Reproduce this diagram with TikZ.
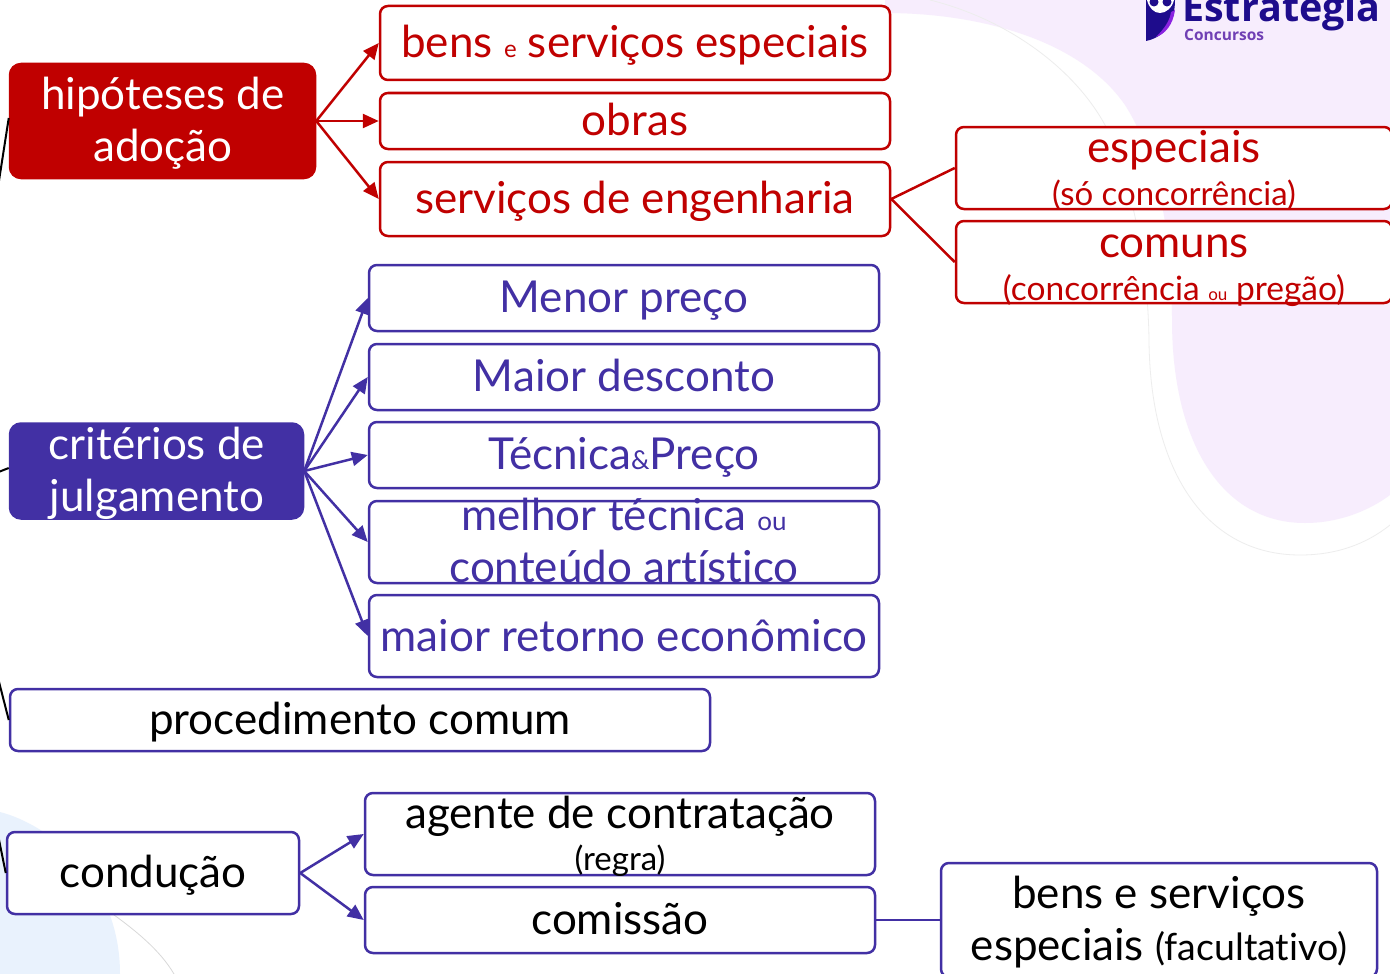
\documentclass[tikz,border=0pt]{standalone}
\usepackage{fontspec}
\setmainfont[Ligatures=NoCommon]{Lato}
\newfontfamily\logofont{Open Sans}
\usetikzlibrary{arrows.meta}
\definecolor{redmain}{HTML}{C00000}
\definecolor{bluemain}{HTML}{4230A4}
\definecolor{lilacbg}{HTML}{F7EDFD}
\definecolor{skybg}{HTML}{E9F2FD}
\definecolor{logonavy}{HTML}{1E0C8C}
\definecolor{logopurple}{HTML}{7040B4}
\definecolor{logoswoosh}{HTML}{8A22E0}
\newcommand{\fs}[1]{\fontsize{#1}{52}\selectfont}
\begin{document}
\begin{tikzpicture}[
    x=1pt, y=-1pt,
    box/.style={draw, fill=white, line width=2.5pt, rounded corners=8pt, inner sep=0pt},
    redbox/.style={box, draw=redmain},
    bluebox/.style={box, draw=bluemain},
    redhead/.style={box, draw=redmain, fill=redmain, rounded corners=11pt},
    bluehead/.style={box, draw=bluemain, fill=bluemain, rounded corners=11pt},
    txt/.style={align=center, inner sep=0pt, font=\fs{44}},
    redtxt/.style={txt, text=redmain},
    bluetxt/.style={txt, text=bluemain},
    whitetxt/.style={txt, text=white},
    redarrow/.style={draw=redmain, line width=2.5pt, -{Triangle[length=16pt,width=14pt]}},
    bluearrow/.style={draw=bluemain, line width=2.5pt, -{Triangle[length=16pt,width=14pt]}},
    redline/.style={draw=redmain, line width=2.5pt},
    blueline/.style={draw=bluemain, line width=2.5pt},
    stub/.style={draw=black, line width=2pt},
    thinarc/.style={draw=black!7, line width=0.8pt}
  ]
  \useasboundingbox (0,0) rectangle (1390,974);
  \clip (0,0) rectangle (1390,974);

  % Background shapes
  \fill[white] (0,0) rectangle (1390,974);
  \fill[lilacbg] (885,0) -- (885,13) .. controls (980,13) and (1080,40) .. (1125,105)
    .. controls (1160,160) and (1172,240) .. (1172,320)
    .. controls (1172,440) and (1220,523) .. (1305,523)
    .. controls (1340,523) and (1370,510) .. (1390,495) -- (1390,0) -- cycle;
  \draw[thinarc] (930,0) .. controls (1010,20) and (1075,70) .. (1105,125)
    .. controls (1135,190) and (1148,270) .. (1149,340)
    .. controls (1150,470) and (1205,555) .. (1300,555)
    .. controls (1335,555) and (1365,545) .. (1390,525);
  \fill[skybg] (0,812) .. controls (50,825) and (120,880) .. (120,974) -- (0,974) -- cycle;
  \draw[thinarc, draw=black!15] (110,912) .. controls (135,930) and (160,950) .. (174,974);

  % Logo
  \fill[logonavy] (1146,0) -- (1175,0) .. controls (1175,22) and (1165,37) .. (1146,41) -- cycle;
  \fill[logoswoosh] (1175,10) .. controls (1173,25) and (1165,34) .. (1156,37) .. controls (1165,28) and (1170,20) .. (1171,12) -- cycle;
  \fill[white] (1147,0) -- (1174,0) .. controls (1172,8) and (1166,13) .. (1160,13) .. controls (1154,13) and (1149,8) .. (1147,0) -- cycle;
  \fill[logonavy] (1154,2) circle (4.5) (1167,2) circle (4.5);
  \node[inner sep=0pt, anchor=base west, text=logonavy, font=\logofont\bfseries\fs{39.5}] (logotitle) at (1182,22) {Estratégia};
  \node[inner sep=0pt, anchor=base west, text=logopurple, font=\logofont\bfseries\fs{15.5}] (logosub) at (1184,41) {Concursos};

  % Stubs from the left edge
  \coordinate (stubA) at (-4,200);
  \coordinate (stubB) at (-4,473);
  \coordinate (stubC) at (-4,670);
  \coordinate (stubD) at (-4,825);

  % Top branch
  \node[redhead, minimum width=305pt, minimum height=114pt] (hipoteses) at (162.5,121) {};
  \node[whitetxt] (hipotesestxt) at (163,123) {hipóteses de\\adoção};
  \node[redbox, minimum width=510pt, minimum height=74pt] (bens) at (635,43) {};
  \node[redtxt] (benstxt) at (635,45) {bens {\fs{24}e} serviços especiais};
  \node[redbox, minimum width=510pt, minimum height=56pt] (obras) at (635,121) {};
  \node[redtxt] (obrastxt) at (635,119) {obras};
  \node[redbox, minimum width=510pt, minimum height=74pt] (engenharia) at (635,199) {};
  \node[redtxt] (engenhariatxt) at (635,201) {serviços de engenharia};
  \node[redbox, minimum width=436pt, minimum height=82pt] (especiais) at (1174,168) {};
  \node[redtxt] (especiaistxt) at (1174,170) {especiais\\[-9pt]{\fs{33}(só concorrência)}};
  \node[redbox, minimum width=436pt, minimum height=82pt] (comuns) at (1174,262) {};
  \node[redtxt] (comunstxt) at (1174,270.5) {comuns\\[-9pt]{\fs{33.5}(concorrência {\fs{17}ou} pregão)}};

  \draw[redarrow] (hipoteses.east) -- (bens.west);
  \draw[redarrow] (hipoteses.east) -- (obras.west);
  \draw[redarrow] (hipoteses.east) -- (engenharia.west);
  \draw[redline] (engenharia.east) -- (especiais.west);
  \draw[redline] (engenharia.east) -- (comuns.west);

  % Middle branch
  \node[bluehead, minimum width=293pt, minimum height=95pt] (criterios) at (156.5,471) {};
  \node[whitetxt] (criteriostxt) at (157,473) {critérios de\\julgamento};
  \node[bluebox, minimum width=510pt, minimum height=66pt] (menor) at (624,298) {};
  \node[bluetxt] (menortxt) at (624,301) {Menor preço};
  \node[bluebox, minimum width=510pt, minimum height=66pt] (desconto) at (624,377) {};
  \node[bluetxt] (descontotxt) at (624,375) {Maior desconto};
  \node[bluebox, minimum width=510pt, minimum height=66pt] (tecnica) at (624,455) {};
  \node[bluetxt] (tecnicatxt) at (624,457) {Técnica{\fs{26}\&}Preço};
  \node[bluebox, minimum width=510pt, minimum height=82pt] (melhor) at (624,542) {};
  \node[bluetxt] (melhortxt) at (624,540) {melhor técnica {\fs{26}ou}\\conteúdo artístico};
  \node[bluebox, minimum width=510pt, minimum height=82pt] (retorno) at (624,636) {};
  \node[bluetxt] (retornotxt) at (624,636) {maior retorno econômico};

  \draw[bluearrow] (criterios.east) -- (menor.west);
  \draw[bluearrow] (criterios.east) -- (desconto.west);
  \draw[bluearrow] (criterios.east) -- (tecnica.west);
  \draw[bluearrow] (criterios.east) -- (melhor.west);
  \draw[bluearrow] (criterios.east) -- (retorno.west);

  % Lower branches
  \node[bluebox, minimum width=700pt, minimum height=62pt] (comum) at (360,720) {};
  \node[txt] (comumtxt) at (360,722) {procedimento comum};
  \node[bluebox, minimum width=292pt, minimum height=82pt] (conducao) at (153,873) {};
  \node[txt] (conducaotxt) at (153,875) {condução};
  \node[bluebox, minimum width=510pt, minimum height=82pt] (agente) at (620,834) {};
  \node[txt] (agentetxt) at (620,836) {agente de contratação\\[-10pt]{\fs{33}(regra)}};
  \node[bluebox, minimum width=510pt, minimum height=66pt] (comissao) at (620,920) {};
  \node[txt] (comissaotxt) at (620,919) {comissão};
  \node[bluebox, minimum width=436pt, minimum height=114pt] (facultativo) at (1159,920) {};
  \node[txt] (facultativotxt) at (1159,922) {bens e serviços\\especiais {\fs{37.5}(facultativo)}};

  \draw[bluearrow] (conducao.east) -- (agente.west);
  \draw[bluearrow] (conducao.east) -- (comissao.west);
  \draw[blueline] (comissao.east) -- (facultativo.west);

  % Stub lines
  \draw[stub] (stubA) -- (hipoteses.west |- 0,118);
  \draw[stub] (stubB) -- (criterios.west |- 0,468);
  \draw[stub] (stubC) -- (comum.west);
  \draw[stub] (stubD) -- (conducao.west);

\end{tikzpicture}
\end{document}
